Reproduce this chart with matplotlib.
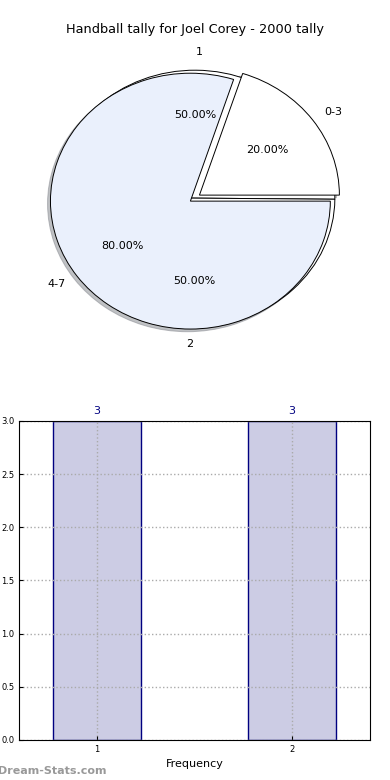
import matplotlib
matplotlib.use("Agg")
import matplotlib.pyplot as plt

# tally data
groups = ["0-3", "4-7"]
group_share = [20, 80]
games = ["1", "2"]
game_share = [50, 50]
bar_x = [1, 2]
bar_counts = [3, 3]

fig = plt.figure(figsize=(3.9, 7.8), dpi=100)
fig.text(0.5, 1 - 30 / 780, "Handball tally for Joel Corey - 2000 tally",
         ha="center", va="center", fontsize=9.3)

# pie part - two pies on the same axes
shadow_kw = dict(ox=-0.015, oy=-0.015, shade=0.45)
ax1 = fig.add_axes([0.0513, 0.541, 0.897, 0.410])
ax1.pie(game_share, labels=games, autopct="%1.2f%%", colors=["white", "white"],
        shadow=shadow_kw, startangle=-0.5, labeldistance=1.14, pctdistance=0.65,
        wedgeprops=dict(edgecolor="black", linewidth=0.7),
        textprops=dict(fontsize=8))
ax1.pie(group_share, labels=groups, autopct="%1.2f%%", colors=["white", "#eaf0fc"],
        explode=[0.04, 0.04], shadow=shadow_kw, startangle=0,
        wedgeprops=dict(edgecolor="black", linewidth=0.7),
        textprops=dict(fontsize=8))
ax1.set_aspect("auto")
ax1.set_xlim(-1.25, 1.25)
ax1.set_ylim(-1.25, 1.25)

# bar part
ax2 = fig.add_axes([0.0487, 0.0513, 0.9, 0.409])
bars = ax2.bar(bar_x, bar_counts, width=0.45, color="#ccccE4",
               edgecolor="#000080", linewidth=1, zorder=1)
for b, v in zip(bars, bar_counts):
    ax2.text(b.get_x() + b.get_width() / 2, v + 0.05, str(v), ha="center",
             va="bottom", color="#000080", fontsize=8)
ax2.set_xlim(0.6, 2.4)
ax2.set_ylim(0, 3)
ax2.set_xticks(bar_x)
ax2.set_yticks([0, 0.5, 1.0, 1.5, 2.0, 2.5, 3.0])
ax2.set_yticklabels(["0.0", "0.5", "1.0", "1.5", "2.0", "2.5", "3.0"])
ax2.tick_params(labelsize=6, length=3, direction="in")
ax2.set_axisbelow("line")
ax2.grid(True, linestyle=":", color="#aaaaaa", linewidth=1)
ax2.set_xlabel("Frequency", fontsize=8, labelpad=4)

fig.text(-0.004, 1 - 771 / 780, "Dream-Stats.com", color="#999999",
         fontsize=8, fontweight="bold", ha="left", va="center")

plt.savefig("out.png", dpi=100)
